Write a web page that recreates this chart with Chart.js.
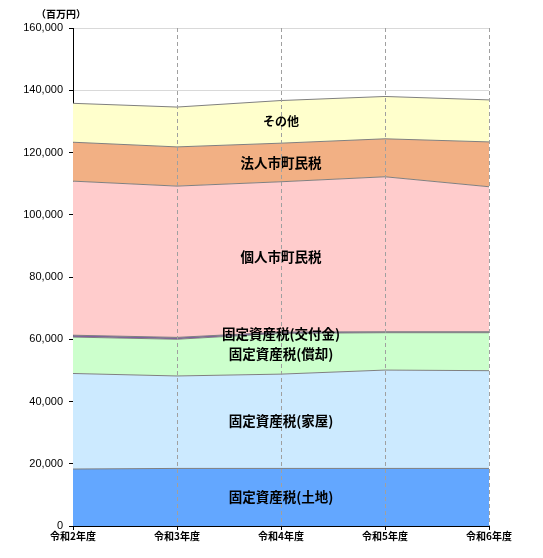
<!DOCTYPE html>
<html><head><meta charset="utf-8">
<script src="https://cdn.jsdelivr.net/npm/chart.js@4.4.1/dist/chart.umd.min.js"></script>
<style>html,body{margin:0;padding:0;background:#fff;}#wrap{width:543px;height:558px;}</style>
</head><body><div id="wrap"><canvas id="c" width="543" height="558"></canvas></div>
<script>
const categories = ['令和2年度','令和3年度','令和4年度','令和5年度','令和6年度'];
const seriesNames = ['固定資産税(土地)','固定資産税(家屋)','固定資産税(償却)','固定資産税(交付金)','個人市町民税','法人市町民税','その他'];
const land      = [18300, 18500, 18500, 18500, 18500];
const house     = [30700, 29700, 30300, 31600, 31400];
const depreciable = [11700, 11800, 13100, 12000, 12200];
const grant     = [600, 600, 400, 300, 300];
const individual = [49500, 48600, 48300, 49800, 46600];
const corporate = [12500, 12600, 12400, 12200, 14400];
const other     = [12500, 12800, 13700, 13600, 13500];
const yTicks = [0, 20000, 40000, 60000, 80000, 100000, 120000, 140000, 160000];
const unitLabel = '（百万円）';

const values = [land, house, depreciable, grant, individual, corporate, other];
const fills = ['#63a7ff','#cceaff','#ccffcc','#7f5aa5','#ffcccc','#f2b084','#ffffcc'];
const labelStyle = [
  {dy:0, font:'bold 13.5px "Noto Sans CJK JP"'},
  {dy:0, font:'bold 13.5px "Noto Sans CJK JP"'},
  {dy:0, font:'bold 13.5px "Noto Sans CJK JP"'},
  {dy:1, font:'bold 13.5px "Noto Sans CJK JP"'},
  {dy:0, font:'bold 13.5px "Noto Sans CJK JP"'},
  {dy:0, font:'bold 13.5px "Noto Sans CJK JP"'},
  {dy:0, font:'bold 12px "Noto Sans CJK JP"'}
];
const labelIndex = 2;

const datasets = values.map((v,i)=>({
  label: seriesNames[i],
  data: v,
  backgroundColor: fills[i],
  borderColor: '#808080',
  borderWidth: 1,
  fill: i===0 ? 'origin' : '-1',
  pointRadius: 0,
  tension: 0
}));

const overlay = {
  id:'overlay',
  afterDatasetsDraw(chart){
    const ctx = chart.ctx, xs = chart.scales.x, ys = chart.scales.y, a = chart.chartArea;
    ctx.save();
    ctx.strokeStyle = '#a0a0a0'; ctx.lineWidth = 1; ctx.setLineDash([4,3]);
    for (let i=1;i<categories.length;i++){
      const x = Math.round(xs.getPixelForValue(i))+0.5;
      ctx.beginPath(); ctx.moveTo(x,a.top); ctx.lineTo(x,a.bottom); ctx.stroke();
    }
    ctx.setLineDash([]);
    ctx.fillStyle = '#000'; ctx.textAlign='center'; ctx.textBaseline='middle';
    let base = 0;
    const xl = xs.getPixelForValue(labelIndex);
    values.forEach((v,i)=>{
      const mid = base + v[labelIndex]/2;
      base += v[labelIndex];
      ctx.font = labelStyle[i].font;
      ctx.fillText(seriesNames[i], xl, ys.getPixelForValue(mid)+labelStyle[i].dy);
    });
    ctx.font = 'bold 10px "Noto Sans CJK JP"';
    ctx.fillText(unitLabel, a.left-12, a.top-14);
    ctx.restore();
  }
};

new Chart(document.getElementById('c'), {
  type:'line',
  data:{labels:categories, datasets},
  options:{
    responsive:false, animation:false,
    layout:{padding:{left:0, top:28, right:54, bottom:0}},
    plugins:{legend:{display:false}, tooltip:{enabled:false}},
    scales:{
      x:{
        offset:false,
        grid:{drawOnChartArea:false, tickColor:'#000', tickLength:4},
        border:{color:'#000', width:1},
        ticks:{color:'#000', font:{family:'"Noto Sans CJK JP"', size:10, weight:'bold'}, padding:0, maxRotation:0, autoSkip:false},
        afterFit(s){ s.height = 32; }
      },
      y:{
        stacked:true, min:0, max:160000,
        afterBuildTicks(s){ s.ticks = yTicks.map(v=>({value:v})); },
        grid:{color:'#d9d9d9', tickColor:'#000', tickLength:4},
        border:{color:'#000', width:1},
        ticks:{color:'#000', font:{family:'"Liberation Sans Narrow", "Liberation Sans"', size:11}, padding:6,
          callback:v=>v.toLocaleString('en-US')},
        afterFit(s){ s.width = 73; }
      }
    }
  },
  plugins:[overlay]
});
</script></body></html>
